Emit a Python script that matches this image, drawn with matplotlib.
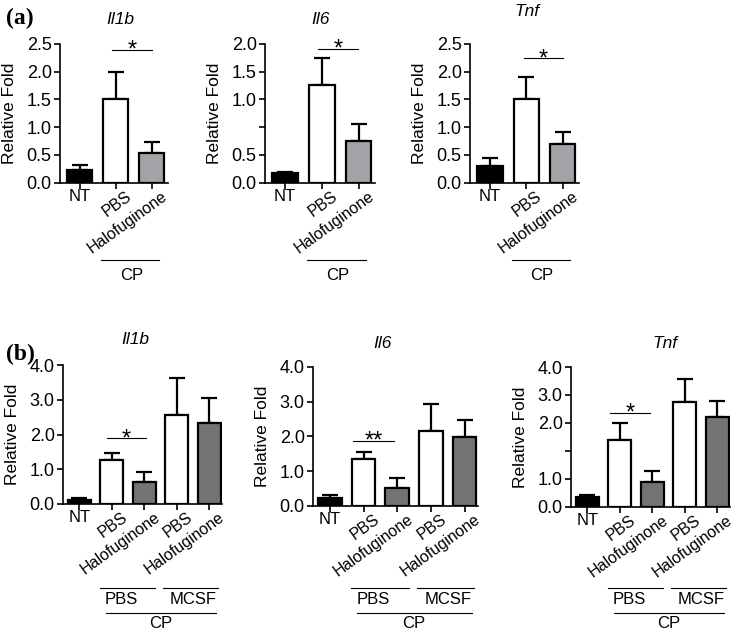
import matplotlib
matplotlib.use("Agg")
import matplotlib.pyplot as plt
from matplotlib.transforms import blended_transform_factory, offset_copy

W, H = 741, 636
plt.rcParams["font.family"] = ["Liberation Sans", "DejaVu Sans"]

# categories
GROUPS_A = ["NT", "PBS", "Halofuginone"]
GROUPS_B = ["NT", "PBS", "Halofuginone", "PBS", "Halofuginone"]

# (a) relative fold, mean and upper SEM
A_IL1B = [0.23, 1.50, 0.54]
A_IL1B_ERR = [0.09, 0.50, 0.20]
A_IL6 = [0.135, 1.41, 0.60]
A_IL6_ERR = [0.015, 0.39, 0.24]
A_TNF = [0.31, 1.51, 0.70]
A_TNF_ERR = [0.135, 0.40, 0.21]

# (b) relative fold, mean and upper SEM
B_IL1B = [0.115, 1.27, 0.64, 2.56, 2.32]
B_IL1B_ERR = [0.065, 0.20, 0.28, 1.06, 0.74]
B_IL6 = [0.24, 1.35, 0.52, 2.16, 1.97]
B_IL6_ERR = [0.08, 0.20, 0.28, 0.76, 0.49]
B_TNF = [0.29, 1.92, 0.71, 3.01, 2.56]
B_TNF_ERR = [0.05, 0.49, 0.32, 0.65, 0.47]

# y ticks (two axes in the original have 6 even ticks, one left unlabeled)
TICKS_25 = [0.0, 0.5, 1.0, 1.5, 2.0, 2.5]
LABELS_25 = ["0.0", "0.5", "1.0", "1.5", "2.0", "2.5"]
TICKS_IL6_A = [0.0, 0.4, 0.8, 1.2, 1.6, 2.0]
LABELS_IL6_A = ["0.0", "0.5", "", "1.0", "1.5", "2.0"]
TICKS_40 = [0.0, 1.0, 2.0, 3.0, 4.0]
LABELS_40 = ["0.0", "1.0", "2.0", "3.0", "4.0"]
TICKS_TNF_B = [0.0, 0.8, 1.6, 2.4, 3.2, 4.0]
LABELS_TNF_B = ["0.0", "1.0", "", "2.0", "3.0", "4.0"]

COLORS_A = ["black", "white", "#a3a3a7"]
COLORS_B = ["black", "white", "#737373", "white", "#737373"]

FS = 12


def fig_y(py):
    return 1 - py / H


def draw_panel(fig, rect, title, title_xy, groups, means, errs, colors,
               ticks, ticklabels, ymax, xlim, sig, stars, width):
    left, top, right, bottom = rect
    ax = fig.add_axes([left / W, fig_y(bottom), (right - left) / W, (bottom - top) / H])
    x = list(range(len(means)))
    ax.errorbar(x, means, yerr=[[0] * len(errs), errs], fmt="none", ecolor="black",
                elinewidth=1.6, capsize=6, capthick=1.6, zorder=2)
    ax.bar(x, means, width=width, color=colors, edgecolor="black", linewidth=1.6, zorder=3)
    for side in ("top", "right"):
        ax.spines[side].set_visible(False)
    for side in ("left", "bottom"):
        ax.spines[side].set_linewidth(1.2)
    ax.set_xlim(*xlim)
    ax.set_ylim(0, ymax)
    ax.set_xticks(x)
    ax.set_xticklabels([])
    ax.set_yticks(ticks)
    ax.set_yticklabels(ticklabels, fontsize=FS + 1)
    ax.tick_params(axis="both", length=4, width=1.2, pad=2)
    ax.set_ylabel("Relative Fold", fontsize=FS + 0.5, labelpad=7)

    fig.text(title_xy[0] / W, fig_y(title_xy[1]), title, style="italic",
             fontsize=FS + 0.5, ha="center", va="center")

    trans = blended_transform_factory(ax.transData, fig.transFigure)
    shifted = offset_copy(trans, fig=fig, x=14, y=0, units="dots")
    for i, name in enumerate(groups):
        if name == "NT":
            ax.text(i, fig_y(bottom + 6), name, transform=trans, ha="center",
                    va="top", fontsize=FS)
        else:
            ax.text(i, fig_y(bottom + 12), name, transform=shifted, ha="right",
                    va="center", rotation=36, rotation_mode="anchor", fontsize=FS - 0.5)

    x0, x1, ys = sig
    ax.plot([x0, x1], [ys, ys], color="black", lw=0.8, clip_on=False)
    star_trans = offset_copy(ax.transData, fig=fig, x=0, y=-7, units="dots")
    ax.text((x0 + x1) / 2, ys, stars, transform=star_trans, ha="center",
            va="baseline", fontsize=17)
    return ax, trans


def group_line(ax, trans, x0, x1, py, text, tx, ty):
    ax.plot([x0, x1], [fig_y(py), fig_y(py)], transform=trans, color="black",
            lw=0.8, clip_on=False)
    ax.text(tx, fig_y(ty), text, transform=trans, ha="center", va="center", fontsize=FS)


fig = plt.figure(figsize=(W / 100, H / 100), dpi=100)

fig.text(6 / W, fig_y(18), "(a)", family=["Liberation Serif", "DejaVu Serif"],
         fontweight="bold", fontsize=17, ha="left", va="center")
fig.text(6 / W, fig_y(354), "(b)", family=["Liberation Serif", "DejaVu Serif"],
         fontweight="bold", fontsize=17, ha="left", va="center")

# (a) row
xlim_a = (-0.55, 2.45)
panels_a = [
    ((60, 44, 168, 182.7), "Il1b", (120, 19), A_IL1B, A_IL1B_ERR, TICKS_25, LABELS_25, 2.5, (0.9, 2.0, 2.40), "*"),
    ((265, 44, 375, 182.7), "Il6", (320, 19), A_IL6, A_IL6_ERR, TICKS_IL6_A, LABELS_IL6_A, 2.0, (0.89, 1.99, 1.93), "*"),
    ((470, 44, 579, 182.7), "Tnf", (527, 11), A_TNF, A_TNF_ERR, TICKS_25, LABELS_25, 2.5, (0.93, 2.02, 2.24), "*"),
]
for rect, title, txy, means, errs, ticks, labels, ymax, sig, stars in panels_a:
    ax, trans = draw_panel(fig, rect, title, txy, GROUPS_A, means, errs, COLORS_A,
                           ticks, labels, ymax, xlim_a, sig, stars, 0.7)
    group_line(ax, trans, 0.6, 2.2, 260, "CP", 1.43, 275)

# (b) row
xlim_b = (-0.5, 4.4)
panels_b = [
    ((63, 365, 222, 504), "Il1b", (135, 340), B_IL1B, B_IL1B_ERR, TICKS_40, LABELS_40, 4.0, (0.85, 2.06, 1.89), "*"),
    ((313, 366.7, 478, 506), "Il6", (383, 343), B_IL6, B_IL6_ERR, TICKS_40, LABELS_40, 4.0, (0.69, 1.9, 1.87), "**"),
    ((571, 367, 730, 506.7), "Tnf", (665, 343), B_TNF, B_TNF_ERR, TICKS_TNF_B, LABELS_TNF_B, 4.0, (0.7, 1.92, 2.69), "*"),
]
for rect, title, txy, means, errs, ticks, labels, ymax, sig, stars in panels_b:
    ax, trans = draw_panel(fig, rect, title, txy, GROUPS_B, means, errs, COLORS_B,
                           ticks, labels, ymax, xlim_b, sig, stars, 0.71)
    group_line(ax, trans, 0.64, 2.34, 587.7, "PBS", 1.3, 599)
    group_line(ax, trans, 2.58, 4.29, 587.7, "MCSF", 3.5, 599)
    group_line(ax, trans, 0.82, 4.22, 612.7, "CP", 2.5, 624)

fig.savefig("out.png", dpi=100)
